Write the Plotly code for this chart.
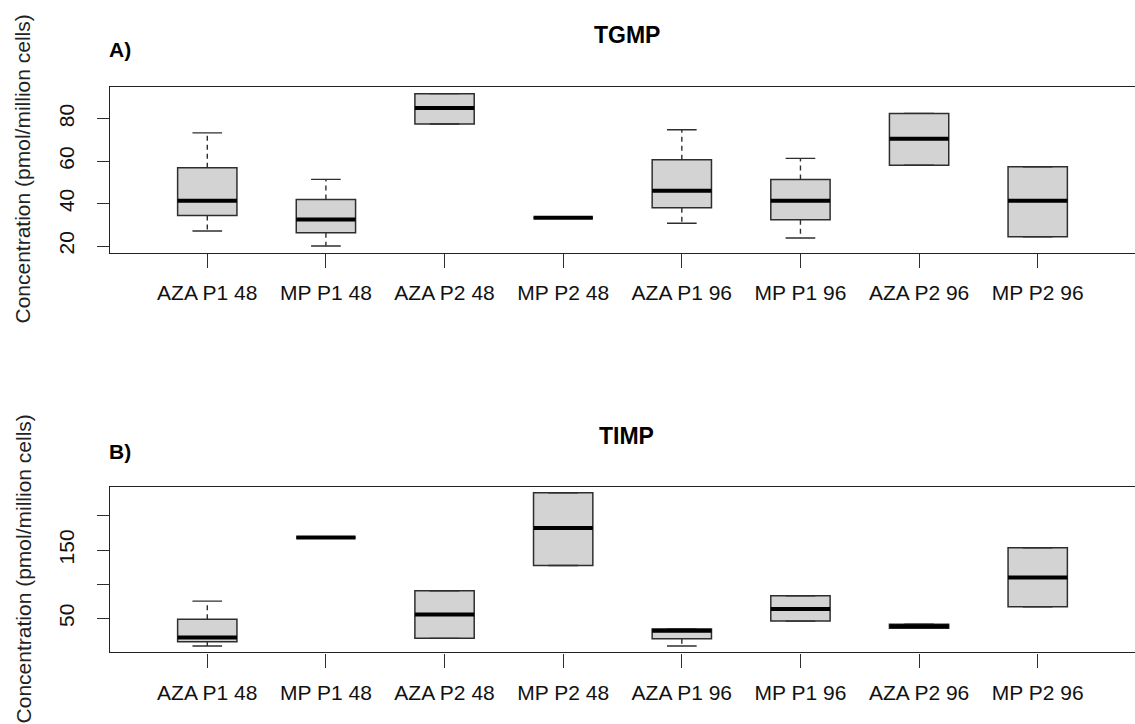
import plotly.graph_objects as go

W, H = 1135, 724

categories = ["AZA P1 48", "MP P1 48", "AZA P2 48", "MP P2 48",
              "AZA P1 96", "MP P1 96", "AZA P2 96", "MP P2 96"]
positions = [1, 2, 3, 4, 5, 6, 7, 8]

# Panel A: TGMP
tgmp_low = [27.1, 20.0, 77.5, 33.3, 30.7, 23.8, 58.1, 24.4]
tgmp_q1 = [34.4, 26.3, 77.5, 33.3, 38.0, 32.4, 58.1, 24.4]
tgmp_med = [41.3, 32.5, 85.0, 33.3, 46.1, 41.3, 70.6, 41.3]
tgmp_q3 = [56.9, 41.9, 91.8, 33.3, 60.7, 51.4, 82.5, 57.3]
tgmp_high = [73.3, 51.4, 91.8, 33.3, 74.8, 61.3, 82.5, 57.3]

# Panel B: TIMP
timp_low = [9.5, 168.3, 20.7, 127.4, 9.5, 46.0, 35.5, 67.0]
timp_q1 = [15.9, 168.3, 20.7, 127.4, 20.3, 46.0, 35.5, 67.0]
timp_med = [22.0, 168.3, 55.8, 182.4, 32.0, 63.6, 38.5, 109.8]
timp_q3 = [48.5, 168.3, 90.4, 234.0, 34.3, 83.1, 41.5, 153.2]
timp_high = [75.2, 168.3, 90.4, 234.0, 34.3, 83.1, 41.5, 153.2]

tgmp_yticks = [20, 40, 60, 80]
tgmp_yticktext = ["20", "40", "60", "80"]
timp_yticks = [50, 100, 150, 200]
timp_yticktext = ["50", "", "150", ""]

BOX_W = 0.5
CAP_W = 0.25
FONT = "Liberation Sans, Arial, sans-serif"
EDGE = "#2e2e2e"

fig = go.Figure()


def add_panel(low, q1, med, q3, high, xa, ya):
    for i, p in enumerate(positions):
        fig.add_trace(go.Box(
            x=[p], q1=[q1[i]], median=[med[i]], q3=[q3[i]],
            lowerfence=[q1[i]], upperfence=[q3[i]],
            width=BOX_W, whiskerwidth=0,
            fillcolor="#d3d3d3", line=dict(color=EDGE, width=1.5),
            showlegend=False, hoverinfo="skip", boxpoints=False,
            xaxis=xa, yaxis=ya))
    # dashed whiskers
    wx, wy = [], []
    for i, p in enumerate(positions):
        wx += [p, p, None, p, p, None]
        wy += [q3[i], high[i], None, q1[i], low[i], None]
    fig.add_trace(go.Scatter(x=wx, y=wy, mode="lines",
                             line=dict(color=EDGE, width=1.4, dash="5px,4px"),
                             showlegend=False, hoverinfo="skip",
                             xaxis=xa, yaxis=ya))
    # staples
    sx, sy = [], []
    for i, p in enumerate(positions):
        sx += [p - CAP_W / 2, p + CAP_W / 2, None, p - CAP_W / 2, p + CAP_W / 2, None]
        sy += [high[i], high[i], None, low[i], low[i], None]
    fig.add_trace(go.Scatter(x=sx, y=sy, mode="lines",
                             line=dict(color=EDGE, width=1.4),
                             showlegend=False, hoverinfo="skip",
                             xaxis=xa, yaxis=ya))
    # thick medians
    mx, my = [], []
    for i, p in enumerate(positions):
        mx += [p - BOX_W / 2, p + BOX_W / 2, None]
        my += [med[i], med[i], None]
    fig.add_trace(go.Scatter(x=mx, y=my, mode="lines",
                             line=dict(color="black", width=4),
                             showlegend=False, hoverinfo="skip",
                             xaxis=xa, yaxis=ya))


add_panel(tgmp_low, tgmp_q1, tgmp_med, tgmp_q3, tgmp_high, "x", "y")
add_panel(timp_low, timp_q1, timp_med, timp_q3, timp_high, "x2", "y2")


def px_x(v):
    return v / W


def px_y(v):
    return 1 - v / H


xcommon = dict(range=[0.18, 8.82], tickmode="array", tickvals=positions,
               ticktext=categories, ticks="outside", ticklen=14,
               tickcolor=EDGE, tickwidth=1.3, showgrid=False, zeroline=False,
               showline=True, linecolor="#222222", linewidth=1.3, mirror=True,
               ticklabelstandoff=7,
               tickfont=dict(family=FONT, size=21, color="#111111"),
               domain=[px_x(110), 1.0], fixedrange=True)
ycommon = dict(ticks="outside", ticklen=12, tickcolor=EDGE, tickwidth=1.3,
               showgrid=False, zeroline=False, showline=True,
               linecolor="#222222", linewidth=1.3, mirror=False,
               tickangle=-90, tickmode="array", ticklabelstandoff=14,
               tickfont=dict(family=FONT, size=21, color="#111111"),
               fixedrange=True)

fig.update_layout(
    width=W, height=H,
    margin=dict(l=0, r=0, t=0, b=0),
    paper_bgcolor="white", plot_bgcolor="white",
    boxmode="overlay",
    xaxis=dict(**xcommon, anchor="y"),
    xaxis2=dict(**xcommon, anchor="y2"),
    yaxis=dict(**ycommon, anchor="x", range=[16.9, 94.9],
               tickvals=tgmp_yticks, ticktext=tgmp_yticktext,
               domain=[px_y(253.3), px_y(87.3)]),
    yaxis2=dict(**ycommon, anchor="x2", range=[0.0, 242.4],
                tickvals=timp_yticks, ticktext=timp_yticktext,
                domain=[px_y(654.3), px_y(488.3)]),
)

ann = []
for txt, cy in [("Concentration (pmol/million cells)", 170),
                ("Concentration (pmol/million cells)", 571)]:
    ann.append(dict(text=txt, x=px_x(23), y=px_y(cy), xref="paper", yref="paper",
                    showarrow=False, textangle=-90, xanchor="center", yanchor="middle",
                    font=dict(family=FONT, size=21, color="#222222")))
for txt, cy in [("<b>TGMP</b>", 35), ("<b>TIMP</b>", 437)]:
    ann.append(dict(text=txt, x=px_x(626.5), y=px_y(cy), xref="paper", yref="paper",
                    showarrow=False, xanchor="center", yanchor="middle",
                    font=dict(family=FONT, size=23, color="black")))
for txt, cy in [("<b>A)</b>", 50), ("<b>B)</b>", 453)]:
    ann.append(dict(text=txt, x=px_x(107), y=px_y(cy), xref="paper", yref="paper",
                    showarrow=False, xanchor="left", yanchor="middle",
                    font=dict(family=FONT, size=21, color="black")))
fig.update_layout(annotations=ann)

fig.write_html("out.html")
